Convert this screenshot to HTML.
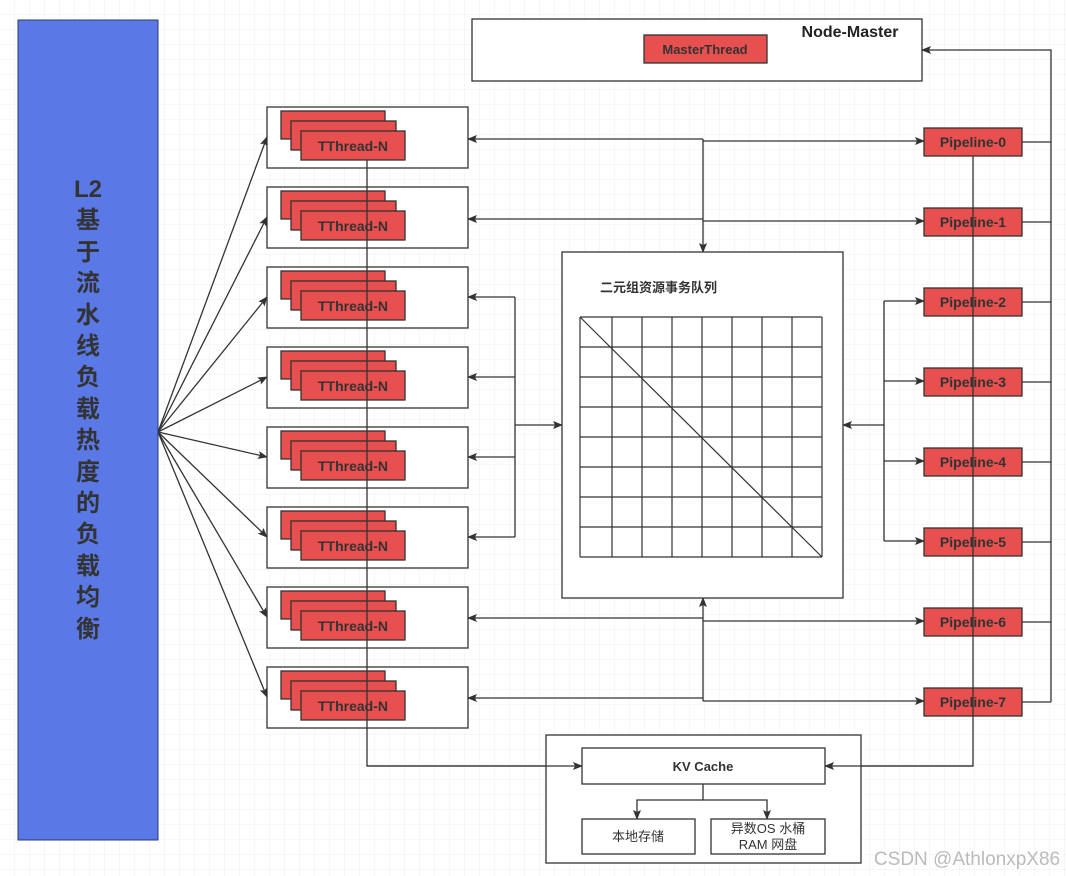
<!DOCTYPE html>
<html><head><meta charset="utf-8"><style>
html,body{margin:0;padding:0;width:1066px;height:876px;overflow:hidden;background:#fff}
svg text{font-family:"Liberation Sans","Noto Sans CJK SC",sans-serif}
</style></head><body>
<svg width="1066" height="876" viewBox="0 0 1066 876" xmlns="http://www.w3.org/2000/svg">
<defs>
<pattern id="g" width="15" height="15" patternUnits="userSpaceOnUse"><path d="M15 0V15H0" fill="none" stroke="#efefef" stroke-width="1"/></pattern>
<marker id="a" markerWidth="10" markerHeight="8" refX="9" refY="4" orient="auto" markerUnits="userSpaceOnUse"><path d="M0 0L10 4L0 8L2 4z" fill="#333"/></marker>
</defs>
<rect width="1066" height="876" fill="url(#g)"/>
<g stroke="#333" stroke-width="1.3" fill="none">
<line x1="158" y1="432" x2="267" y2="137" marker-end="url(#a)"/>
<line x1="158" y1="432" x2="267" y2="217" marker-end="url(#a)"/>
<line x1="158" y1="432" x2="267" y2="297" marker-end="url(#a)"/>
<line x1="158" y1="432" x2="267" y2="377" marker-end="url(#a)"/>
<line x1="158" y1="432" x2="267" y2="457" marker-end="url(#a)"/>
<line x1="158" y1="432" x2="267" y2="537" marker-end="url(#a)"/>
<line x1="158" y1="432" x2="267" y2="617" marker-end="url(#a)"/>
<line x1="158" y1="432" x2="267" y2="697" marker-end="url(#a)"/>
</g>
<rect x="18" y="20" width="140" height="820" fill="#5a78e6" stroke="#2a3a70" stroke-width="1"/>
<g font-size="24" font-weight="bold" fill="#333" text-anchor="middle">
<text x="88" y="197">L2</text><text x="88" y="228">基</text><text x="88" y="260">于</text><text x="88" y="291">流</text><text x="88" y="323">水</text><text x="88" y="354">线</text><text x="88" y="385">负</text><text x="88" y="417">载</text><text x="88" y="448">热</text><text x="88" y="480">度</text><text x="88" y="511">的</text><text x="88" y="542">负</text><text x="88" y="574">载</text><text x="88" y="605">均</text><text x="88" y="637">衡</text>
</g>

<rect x="472" y="19" width="450" height="62" fill="#fff" stroke="#333" stroke-width="1.3"/>
<text x="850" y="37" font-size="16" font-weight="bold" fill="#222" text-anchor="middle">Node-Master</text>
<rect x="644" y="35" width="123" height="28" fill="#e84f4f" stroke="#333" stroke-width="1.3"/>
<text x="705" y="54" font-size="13" font-weight="bold" fill="#333" text-anchor="middle">MasterThread</text>

<g id="tb">
<rect x="267" y="107" width="201" height="61" fill="#fff" stroke="#333" stroke-width="1.3"/>
<rect x="281" y="111" width="104" height="28" fill="#e84f4f" stroke="#333" stroke-width="1.3"/>
<rect x="291" y="121" width="105" height="29" fill="#e84f4f" stroke="#333" stroke-width="1.3"/>
<rect x="301" y="131" width="104" height="29" fill="#e84f4f" stroke="#333" stroke-width="1.3"/>
<text x="353" y="151" font-size="14" font-weight="bold" fill="#333" text-anchor="middle">TThread-N</text>
</g>
<use href="#tb" y="80"/><use href="#tb" y="160"/><use href="#tb" y="240"/><use href="#tb" y="320"/><use href="#tb" y="400"/><use href="#tb" y="480"/><use href="#tb" y="560"/>

<g font-size="14" font-weight="bold" fill="#333" text-anchor="middle">
<g id="pp"><rect x="924" y="128" width="98" height="28" fill="#e84f4f" stroke="#333" stroke-width="1.3"/></g>
<use href="#pp" y="80"/><use href="#pp" y="160"/><use href="#pp" y="240"/><use href="#pp" y="320"/><use href="#pp" y="400"/><use href="#pp" y="480"/><use href="#pp" y="560"/>
<text x="973" y="147">Pipeline-0</text><text x="973" y="227">Pipeline-1</text><text x="973" y="307">Pipeline-2</text><text x="973" y="387">Pipeline-3</text><text x="973" y="467">Pipeline-4</text><text x="973" y="547">Pipeline-5</text><text x="973" y="627">Pipeline-6</text><text x="973" y="707">Pipeline-7</text>
</g>

<g stroke="#333" stroke-width="1.3" fill="none">
<path d="M1022 142H1051M1022 222H1051M1022 302H1051M1022 382H1051M1022 462H1051M1022 542H1051M1022 622H1051M1022 702H1051"/>
<path d="M1051 702V50H922" marker-end="url(#a)"/>
<path d="M367 160V766H582" marker-end="url(#a)"/>
<path d="M973 156V766H825" marker-end="url(#a)"/>
<line x1="703" y1="139" x2="468" y2="139" marker-end="url(#a)"/>
<line x1="703" y1="141" x2="924" y2="141" marker-end="url(#a)"/>
<line x1="703" y1="219" x2="468" y2="219" marker-end="url(#a)"/>
<line x1="703" y1="221" x2="924" y2="221" marker-end="url(#a)"/>
<line x1="703" y1="139" x2="703" y2="252" marker-end="url(#a)"/>
<line x1="703" y1="618" x2="468" y2="618" marker-end="url(#a)"/>
<line x1="703" y1="621" x2="924" y2="621" marker-end="url(#a)"/>
<line x1="703" y1="698" x2="468" y2="698" marker-end="url(#a)"/>
<line x1="703" y1="701" x2="924" y2="701" marker-end="url(#a)"/>
<line x1="703" y1="701" x2="703" y2="598" marker-end="url(#a)"/>
<path d="M515 297V537"/>
<line x1="515" y1="297" x2="468" y2="297" marker-end="url(#a)"/>
<line x1="515" y1="377" x2="468" y2="377" marker-end="url(#a)"/>
<line x1="515" y1="457" x2="468" y2="457" marker-end="url(#a)"/>
<line x1="515" y1="537" x2="468" y2="537" marker-end="url(#a)"/>
<line x1="515" y1="425" x2="562" y2="425" marker-end="url(#a)"/>
<path d="M884 301V541"/>
<line x1="884" y1="301" x2="924" y2="301" marker-end="url(#a)"/>
<line x1="884" y1="381" x2="924" y2="381" marker-end="url(#a)"/>
<line x1="884" y1="461" x2="924" y2="461" marker-end="url(#a)"/>
<line x1="884" y1="541" x2="924" y2="541" marker-end="url(#a)"/>
<line x1="884" y1="425" x2="843" y2="425" marker-end="url(#a)"/>
</g>

<rect x="562" y="252" width="281" height="346" fill="#fff" stroke="#333" stroke-width="1.3"/>
<text x="600" y="292" font-size="13" font-weight="bold" fill="#333">二元组资源事务队列</text>
<g stroke="#333" stroke-width="1.2">
<path d="M580 317H822M580 347H822M580 377H822M580 407H822M580 437H822M580 467H822M580 497H822M580 527H822M580 557H822"/>
<path d="M580 317V557M612 317V557M642 317V557M672 317V557M702 317V557M732 317V557M762 317V557M792 317V557M822 317V557"/>
<line x1="580" y1="317" x2="822" y2="557"/>
</g>

<rect x="546" y="735" width="315" height="128" fill="#fff" stroke="#333" stroke-width="1.3"/>
<g stroke="#333" stroke-width="1.3" fill="none">
<line x1="367" y1="766" x2="582" y2="766" marker-end="url(#a)"/>
<line x1="973" y1="766" x2="825" y2="766" marker-end="url(#a)"/>
</g>
<rect x="582" y="748" width="243" height="36" fill="#fff" stroke="#333" stroke-width="1.3"/>
<text x="703" y="771" font-size="13" font-weight="bold" fill="#333" text-anchor="middle">KV Cache</text>
<g stroke="#333" stroke-width="1.3" fill="none">
<path d="M703 784V800H637V819" marker-end="url(#a)"/>
<path d="M703 800H767V819" marker-end="url(#a)"/>
</g>
<rect x="582" y="819" width="113" height="35" fill="#fff" stroke="#333" stroke-width="1.3"/>
<rect x="711" y="819" width="114" height="35" fill="#fff" stroke="#333" stroke-width="1.3"/>
<text x="638" y="841" font-size="13" fill="#333" text-anchor="middle">本地存储</text>
<text x="768" y="833" font-size="13" fill="#333" text-anchor="middle">异数OS 水桶</text>
<text x="768" y="849" font-size="13" fill="#333" text-anchor="middle">RAM 网盘</text>
<text x="967" y="865" font-size="19" fill="#bbb" text-anchor="middle">CSDN @AthlonxpX86</text>
</svg>
</body></html>
